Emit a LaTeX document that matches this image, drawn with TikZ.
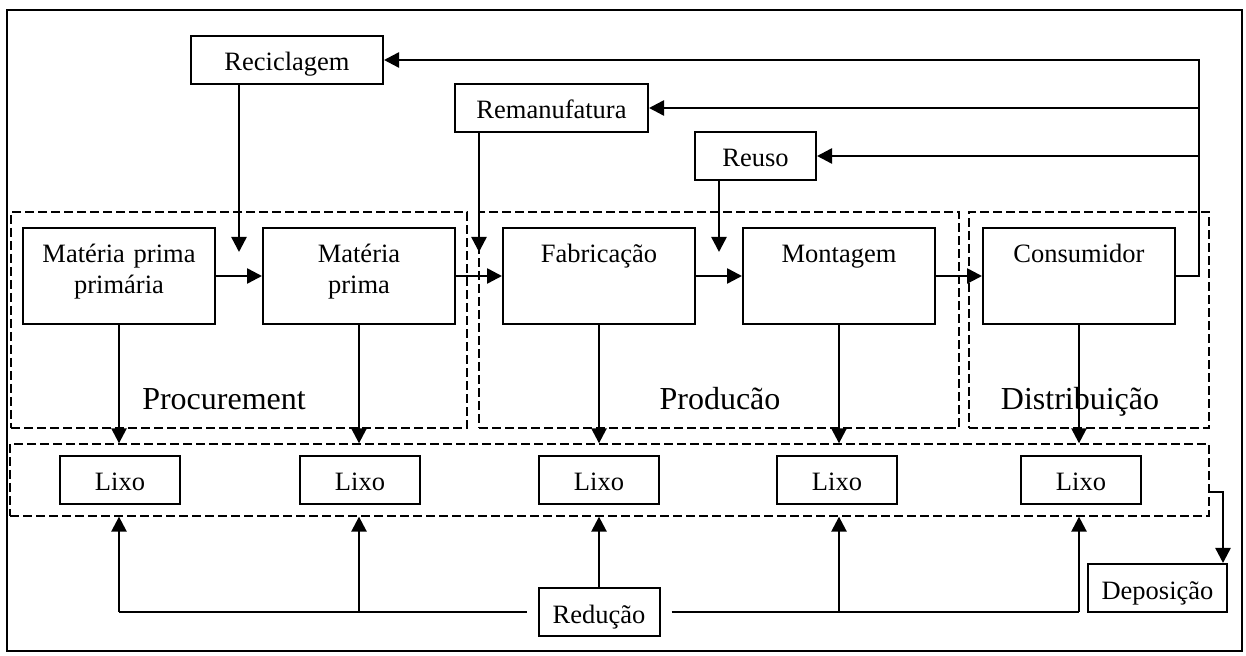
\documentclass[tikz,border=0pt]{standalone}
\usepackage{fontspec}
\setmainfont{Liberation Serif}
\usetikzlibrary{arrows.meta}
\begin{document}
\begin{tikzpicture}[x=0.5pt,y=-0.5pt,
  box/.style={draw, line width=1pt, inner sep=0pt, font=\fontsize{13.25}{15.5}\selectfont},
  smallbox/.style={box, minimum height=24pt, text height=17pt, text depth=6pt},
  procbox/.style={box, minimum width=96pt, minimum height=48pt, text width=92pt, align=center, text height=17pt, text depth=30pt},
  group/.style={draw, dash pattern=on 4.5pt off 2pt, line width=0.65pt, inner sep=0pt},
  flow/.style={line width=1.25pt, -{Triangle[length=7.5pt,width=7.5pt]}},
  link/.style={line width=1.25pt},
  stage/.style={anchor=base, font=\fontsize{16}{18}\selectfont}]

\path[use as bounding box] (0,0) rectangle (1246,656);
\draw[line width=1pt] (7,10) rectangle (1242,651);

% stage groups
\node[group, minimum width=228pt, minimum height=108pt] (gproc) at (239,320) {};
\node[group, minimum width=240pt, minimum height=108pt] (gprod) at (719,320) {};
\node[group, minimum width=120pt, minimum height=108pt] (gdist) at (1089,320) {};
\node[group, minimum width=599.5pt, minimum height=36pt] (band) at (609.5,480) {};

\node[stage] (lproc) at (224,410) {Procurement};
\node[stage] (lprod) at (720,410) {Producão};
\node[stage] (ldist) at (1080,410) {Distribuição};

% recovery boxes
\node[smallbox, minimum width=96pt] (rec) at (287,60) {Reciclagem};
\node[smallbox, minimum width=96.5pt] (rem) at (551.5,108) {Remanufatura};
\node[smallbox, minimum width=60.5pt] (reu) at (755.5,156) {Reuso};

% main chain
\node[procbox] (mpp) at (119,276) {Matéria prima\\primária};
\node[procbox] (mp)  at (359,276) {Matéria\\prima};
\node[procbox] (fab) at (599,276) {Fabricação};
\node[procbox] (mon) at (839,276) {Montagem};
\node[procbox] (con) at (1079,276) {Consumidor};

% waste boxes
\node[smallbox, minimum width=60pt] (l1) at (120,480) {Lixo};
\node[smallbox, minimum width=60pt] (l2) at (360,480) {Lixo};
\node[smallbox, minimum width=60pt] (l3) at (599,480) {Lixo};
\node[smallbox, minimum width=60pt] (l4) at (837,480) {Lixo};
\node[smallbox, minimum width=60pt] (l5) at (1081,480) {Lixo};

\node[smallbox, minimum width=60.5pt] (red) at (599,612) {Redução};
\node[smallbox, minimum width=69.5pt] (dep) at (1157.5,588) {Deposição};

% forward flow
\draw[flow] (mpp.east) -- (mp.west);
\draw[flow] (mp.east) -- (fab.west);
\draw[flow] (fab.east) -- (mon.west);
\draw[flow] (mon.east) -- (con.west);

% return loops
\coordinate (fb) at (1199,60);
\draw[flow] (con.east) -- (con.east -| fb) -- (fb) -- (rec.east);
\draw[flow] (rem.east -| fb) -- (rem.east);
\draw[flow] (reu.east -| fb) -- (reu.east);

\coordinate (recin) at (239,252);
\coordinate (remin) at (479,252);
\coordinate (reuin) at (719,252);
\draw[flow] (recin |- rec.south) -- (recin);
\draw[flow] (remin |- rem.south) -- (remin);
\draw[flow] (reuin |- reu.south) -- (reuin);

% waste generation
\foreach \b in {mpp,mp,fab,mon,con}
  \draw[flow] (\b.south) -- (\b.south |- band.north);

% reduction bus
\coordinate (busL) at (119,612);
\coordinate (busR) at (1079,612);
\draw[link] ([xshift=-5.5pt]red.west) -- (busL);
\draw[link] ([xshift=5.5pt]red.east) -- (busR);
\draw[flow] (busL) -- (busL |- band.south);
\draw[flow] (mp.south |- busL) -- (mp.south |- band.south);
\draw[flow] (red.north) -- (red.north |- band.south);
\draw[flow] (mon.south |- busL) -- (mon.south |- band.south);
\draw[flow] (busR) -- (busR |- band.south);

% disposal
\draw[flow] ([yshift=-6pt]band.east) -| ([xshift=32.75pt]dep.north);
\end{tikzpicture}
\end{document}
